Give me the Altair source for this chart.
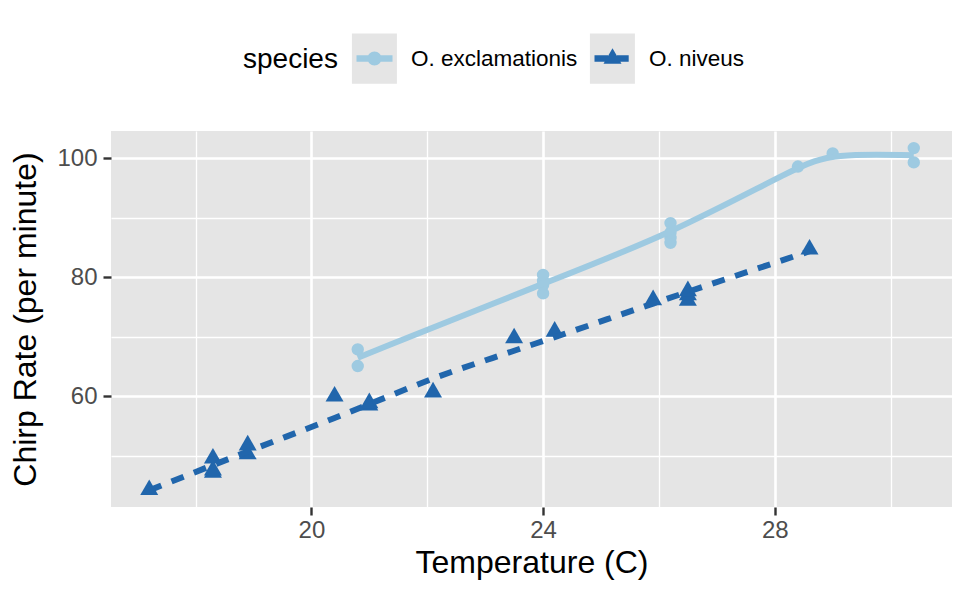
import altair as alt
import pandas as pd

# ---- data (modeldata::crickets) ----
species_names = ["O. exclamationis", "O. niveus"]
excl_temp = [20.8, 20.8, 24.0, 24.0, 24.0, 24.0, 26.2, 26.2, 26.2, 26.2, 28.4, 29.0, 30.4, 30.4]
excl_rate = [67.9, 65.1, 77.3, 78.7, 79.4, 80.4, 85.8, 86.6, 87.5, 89.1, 98.6, 100.8, 99.3, 101.7]
niv_temp = [17.2, 18.3, 18.3, 18.3, 18.9, 18.9, 20.4, 21.0, 21.0, 22.1, 23.5, 24.2, 25.9, 26.5, 26.5, 26.5, 28.6]
niv_rate = [44.3, 47.2, 47.6, 49.6, 50.3, 51.8, 60.0, 58.5, 58.9, 60.7, 69.8, 70.9, 76.2, 76.1, 77.0, 77.7, 84.7]

x_major = [20, 24, 28]
x_minor = [18, 22, 26, 30]
y_major = [60, 80, 100]
y_minor = [50, 70, 90]

df = pd.DataFrame({
    "species": [species_names[0]] * len(excl_temp) + [species_names[1]] * len(niv_temp),
    "temp": excl_temp + niv_temp,
    "rate": excl_rate + niv_rate,
})

# ---- styles ----
colors = ["#9ECAE1", "#2166AC"]
panel_bg = "#E5E5E5"
key_bg = "#E5E5E5"
FONT = "Liberation Sans"
tri_path = "M0,-1.676L1.45,0.837L-1.45,0.837Z"

key_rect = "M-1,-1.12H1V1.12H-1Z"
key_excl = "M-0.8,-0.14H0.8V0.14H-0.8Z M0.31,0A0.31,0.31,0,1,1,-0.31,0A0.31,0.31,0,1,1,0.31,0Z"
key_niv = ("M-0.8,-0.14H-0.2V0.14H-0.8Z M0.2,-0.14H0.72V0.14H0.2Z "
           "M0,-0.46L0.4,0.23L-0.4,0.23Z")

x_scale = alt.Scale(domain=[16.54, 31.06], nice=False, zero=False)
y_scale = alt.Scale(domain=[41.43, 104.57], nice=False, zero=False)
color_scale = alt.Scale(domain=species_names, range=colors)


def axis(values, major, title, **kw):
    test = f"indexof({major}, datum.value) >= 0"
    return alt.Axis(
        values=sorted(values), title=title,
        labelExpr=f"{test} ? datum.label : ''",
        grid=True, gridColor="white",
        gridWidth={"condition": {"test": test, "value": 2.6}, "value": 1.3},
        tickOpacity={"condition": {"test": test, "value": 1}, "value": 0},
        tickColor="#333333", tickWidth=2.4, tickSize=8,
        labelFont=FONT, labelFontSize=24, labelColor="#4D4D4D",
        titleFont=FONT, titleFontSize=32, titleFontWeight="normal", titleColor="black",
        domain=False, **kw)


x_enc = alt.X("temp:Q", scale=x_scale,
              axis=axis(x_major + x_minor, x_major, "Temperature (C)", labelPadding=3, titlePadding=5))
y_enc = alt.Y("rate:Q", scale=y_scale,
              axis=axis(y_major + y_minor, y_major, "Chirp Rate (per minute)", labelPadding=6, titlePadding=14))

# legend layout
LEG_X, LEG_Y = 132, -95
TITLE_SIZE, TITLE_PAD = 28, 14
KEY_X = LEG_X + 3.39 * TITLE_SIZE + TITLE_PAD     # where the first key starts
COL_PAD, LABEL_OFF = 12, 14
BG_LABEL_OFF = 180.3                              # key-to-key spacing minus key width and padding

legend_common = dict(
    orient="none", direction="horizontal", columns=2, legendY=LEG_Y,
    symbolSize=2025, padding=0, symbolStrokeWidth=0, symbolOpacity=1, columnPadding=COL_PAD,
)

# grey key backgrounds (no text)
bg_keys = [n + " " for n in species_names]
bg = alt.Chart(df).transform_filter("false").mark_point(filled=True).encode(
    x=x_enc, y=y_enc,
    fill=alt.Fill("species:N",
                  scale=alt.Scale(domain=bg_keys, range=[key_bg, key_bg]),
                  legend=alt.Legend(title=None, legendX=KEY_X, symbolType=key_rect, zindex=0,
                                    labelExpr="''", labelOffset=BG_LABEL_OFF, **legend_common)),
)

# legend title, key glyphs and labels
fg_legend = alt.Legend(
    legendX=LEG_X, zindex=1,
    title="species", titleOrient="left", titleAnchor="start",
    titleBaseline="line-top", titleLineHeight=47,
    titleFont=FONT, titleFontSize=TITLE_SIZE, titleFontWeight="normal", titleColor="black",
    titlePadding=TITLE_PAD,
    labelFont=FONT, labelFontSize=22.5, labelColor="black", labelOffset=LABEL_OFF, labelLimit=600,
    **legend_common)
fg = alt.Chart(df).transform_filter("false").mark_point(filled=True).encode(
    x=x_enc, y=y_enc,
    color=alt.Color("species:N", scale=color_scale, legend=fg_legend),
    shape=alt.Shape("species:N", scale=alt.Scale(domain=species_names, range=[key_excl, key_niv]),
                    legend=fg_legend),
)

pts = alt.Chart(df).mark_point(filled=True, opacity=1, strokeWidth=0, size=154).encode(
    x=x_enc, y=y_enc,
    color=alt.Color("species:N", scale=color_scale, legend=None),
    shape=alt.condition(f"datum.species === '{species_names[1]}'", alt.value(tri_path), alt.value("circle")),
)

line_excl = alt.Chart(df).transform_filter(
    alt.datum.species == species_names[0]
).transform_loess("temp", "rate", groupby=["species"], bandwidth=0.3).mark_line(
    strokeWidth=6, interpolate="basis"
).encode(x=x_enc, y=y_enc, color=alt.Color("species:N", scale=color_scale, legend=None))

line_niv = alt.Chart(df).transform_filter(
    alt.datum.species == species_names[1]
).transform_loess("temp", "rate", groupby=["species"], bandwidth=0.75).mark_line(
    strokeWidth=6, interpolate="monotone", strokeDash=[13, 11]
).encode(x=x_enc, y=y_enc, color=alt.Color("species:N", scale=color_scale, legend=None))

chart = alt.layer(bg, fg, pts, line_excl, line_niv).properties(
    width=841, height=376,
    autosize=alt.AutoSizeParams(type="none"),
    padding={"left": 103, "top": 123, "right": 8, "bottom": 83},
    background="white",
).configure_view(fill=panel_bg, strokeWidth=0)

chart.save("out.html", embed_options={"renderer": "svg", "actions": False})
